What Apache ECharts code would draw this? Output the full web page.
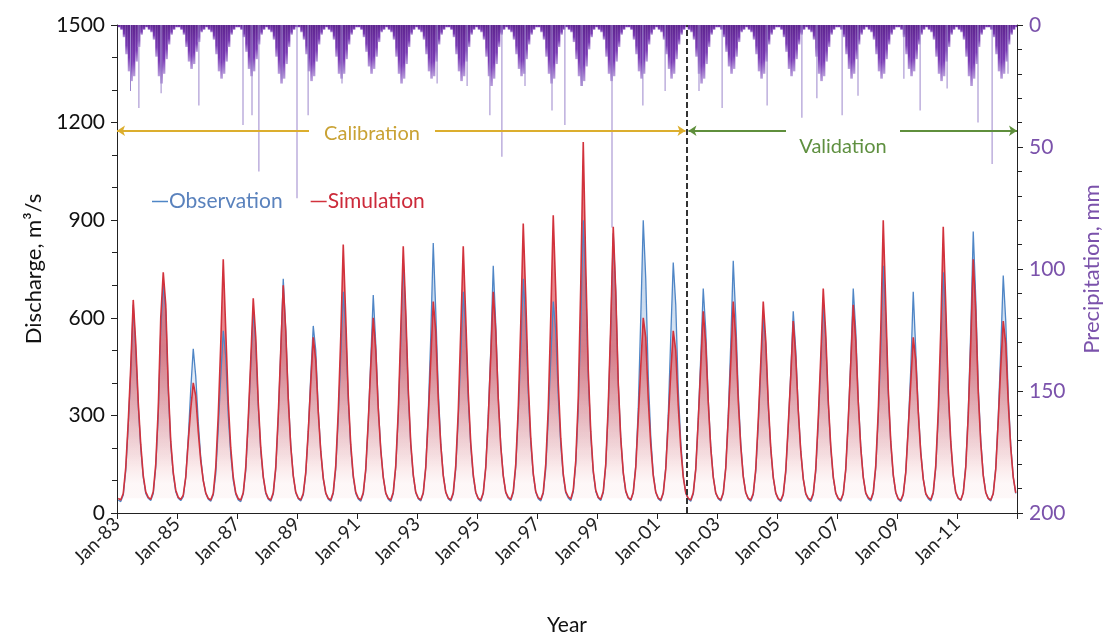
<!DOCTYPE html>
<html>
<head>
<meta charset="utf-8">
<script src="https://cdn.jsdelivr.net/npm/echarts@6/dist/echarts.min.js"></script>
<style>
html, body {margin: 0; padding: 0; background: #fff;}
#main {width: 1119px; height: 641px;}
</style>
</head>
<body>
<div id="main"></div>
<script>
var startYear = 1983;

// monthly discharge, m3/s (Jan..Dec), one row per year 1983-2012
var obsQ = [
    [40, 35, 55, 130, 270, 430, 640, 500, 330, 200, 110, 60],
    [45, 38, 60, 140, 300, 560, 700, 620, 380, 210, 120, 65],
    [45, 38, 50, 110, 230, 380, 505, 420, 280, 170, 100, 60],
    [42, 36, 55, 120, 260, 420, 560, 480, 300, 180, 100, 58],
    [40, 35, 60, 130, 280, 450, 620, 520, 330, 190, 110, 60],
    [42, 36, 58, 135, 290, 500, 720, 560, 360, 210, 115, 62],
    [44, 37, 55, 120, 250, 420, 575, 500, 320, 190, 105, 60],
    [42, 36, 60, 135, 290, 480, 680, 560, 350, 200, 110, 60],
    [43, 36, 58, 130, 280, 470, 670, 520, 330, 195, 110, 60],
    [42, 35, 60, 140, 300, 520, 780, 600, 370, 210, 115, 62],
    [44, 37, 60, 140, 310, 540, 830, 620, 380, 215, 118, 64],
    [44, 37, 58, 135, 290, 480, 680, 560, 350, 205, 112, 62],
    [43, 36, 60, 140, 300, 500, 760, 580, 360, 210, 115, 62],
    [45, 38, 62, 140, 300, 500, 720, 590, 370, 215, 118, 64],
    [44, 37, 60, 135, 290, 470, 650, 560, 360, 210, 115, 62],
    [46, 38, 65, 150, 320, 580, 900, 700, 420, 240, 125, 66],
    [46, 38, 62, 145, 320, 560, 860, 680, 400, 230, 122, 65],
    [45, 38, 62, 145, 320, 600, 900, 720, 420, 235, 120, 64],
    [44, 37, 60, 140, 300, 540, 770, 640, 380, 220, 115, 62],
    [43, 36, 58, 135, 290, 480, 690, 560, 350, 205, 112, 60],
    [44, 37, 60, 140, 300, 520, 775, 600, 370, 215, 115, 62],
    [43, 36, 56, 128, 270, 440, 600, 520, 330, 195, 108, 60],
    [42, 35, 55, 125, 265, 430, 620, 500, 320, 190, 105, 58],
    [42, 35, 56, 128, 275, 450, 640, 530, 340, 200, 108, 60],
    [43, 36, 58, 132, 285, 470, 690, 560, 350, 205, 110, 60],
    [44, 37, 60, 138, 295, 500, 760, 600, 370, 215, 115, 62],
    [42, 35, 55, 125, 265, 440, 680, 500, 320, 190, 105, 58],
    [44, 37, 60, 138, 295, 500, 740, 600, 370, 215, 115, 62],
    [45, 38, 62, 145, 310, 560, 865, 660, 390, 225, 118, 64],
    [44, 37, 60, 138, 295, 500, 730, 590, 360, 210, 110, 60]
];
var simQ = [
    [45, 40, 60, 140, 280, 450, 655, 520, 340, 210, 115, 65],
    [48, 42, 65, 150, 320, 600, 740, 640, 390, 220, 125, 70],
    [48, 42, 55, 110, 220, 320, 400, 360, 250, 160, 100, 62],
    [45, 40, 60, 140, 300, 520, 780, 560, 340, 200, 110, 62],
    [44, 40, 62, 140, 290, 470, 660, 540, 340, 200, 112, 64],
    [45, 40, 62, 140, 300, 500, 700, 560, 350, 205, 115, 64],
    [46, 40, 60, 125, 250, 400, 540, 470, 310, 190, 108, 62],
    [45, 40, 64, 145, 310, 540, 825, 600, 360, 210, 115, 64],
    [46, 40, 62, 135, 280, 450, 600, 500, 320, 195, 110, 62],
    [45, 40, 64, 145, 310, 560, 820, 620, 380, 215, 118, 64],
    [46, 40, 62, 140, 290, 470, 650, 560, 350, 210, 115, 64],
    [46, 40, 62, 145, 310, 560, 820, 600, 370, 215, 118, 64],
    [45, 40, 62, 140, 290, 480, 680, 560, 350, 205, 115, 64],
    [48, 42, 66, 150, 320, 580, 890, 660, 400, 230, 122, 66],
    [47, 41, 64, 150, 320, 600, 915, 680, 400, 230, 120, 66],
    [50, 43, 70, 160, 350, 700, 1140, 760, 440, 250, 130, 70],
    [48, 42, 66, 150, 330, 580, 880, 680, 400, 230, 125, 68],
    [47, 41, 64, 140, 290, 450, 600, 540, 350, 210, 115, 64],
    [46, 40, 62, 135, 280, 430, 560, 500, 330, 200, 110, 62],
    [45, 40, 62, 135, 285, 450, 620, 520, 340, 200, 110, 62],
    [46, 40, 62, 138, 290, 460, 650, 540, 345, 205, 112, 63],
    [45, 40, 60, 135, 285, 460, 650, 530, 340, 200, 110, 62],
    [44, 39, 58, 130, 270, 420, 590, 480, 315, 190, 106, 60],
    [45, 40, 60, 135, 290, 480, 690, 550, 345, 205, 112, 62],
    [45, 40, 60, 135, 285, 460, 640, 530, 340, 200, 110, 62],
    [47, 41, 64, 145, 310, 560, 900, 640, 380, 220, 118, 64],
    [44, 39, 58, 125, 260, 400, 540, 470, 310, 185, 105, 60],
    [47, 41, 64, 145, 310, 560, 880, 640, 380, 220, 118, 64],
    [46, 40, 62, 140, 300, 520, 780, 620, 370, 215, 115, 63],
    [45, 40, 60, 135, 285, 450, 590, 520, 340, 200, 110, 62]
];
// precipitation, mm (dense part, by month)
var rainM = [
    [1, 2, 5, 12, 19, 23, 21, 15, 9, 4, 2, 1],
    [2, 3, 6, 13, 21, 24, 20, 14, 8, 4, 2, 1],
    [1, 2, 4, 9, 15, 18, 16, 11, 7, 3, 2, 1],
    [2, 3, 6, 12, 19, 22, 20, 15, 9, 4, 2, 1],
    [1, 2, 5, 11, 18, 21, 19, 14, 8, 4, 2, 1],
    [2, 3, 6, 13, 20, 24, 22, 16, 9, 4, 2, 1],
    [1, 3, 6, 12, 19, 23, 21, 15, 8, 4, 2, 1],
    [2, 3, 6, 13, 20, 22, 20, 14, 8, 4, 2, 1],
    [1, 2, 5, 11, 17, 20, 18, 13, 7, 3, 2, 1],
    [2, 3, 6, 13, 20, 24, 22, 16, 9, 4, 2, 1],
    [2, 3, 6, 12, 19, 22, 21, 15, 8, 4, 2, 1],
    [1, 2, 5, 12, 19, 23, 21, 15, 9, 4, 2, 1],
    [2, 3, 6, 13, 21, 25, 22, 16, 9, 4, 2, 1],
    [2, 3, 6, 12, 18, 21, 20, 14, 8, 4, 2, 1],
    [1, 3, 6, 13, 20, 24, 22, 16, 9, 4, 2, 1],
    [2, 3, 7, 14, 21, 25, 23, 17, 10, 5, 2, 1],
    [2, 3, 6, 13, 20, 23, 21, 15, 9, 4, 2, 1],
    [1, 2, 6, 12, 19, 22, 20, 15, 8, 4, 2, 1],
    [2, 3, 6, 12, 18, 22, 20, 14, 8, 4, 2, 1],
    [2, 3, 6, 13, 20, 24, 22, 16, 9, 4, 2, 1],
    [1, 2, 5, 11, 17, 20, 18, 13, 7, 3, 2, 1],
    [2, 3, 6, 12, 19, 22, 20, 15, 8, 4, 2, 1],
    [1, 2, 5, 11, 18, 21, 19, 14, 8, 4, 2, 1],
    [2, 3, 6, 13, 20, 23, 21, 15, 9, 4, 2, 1],
    [1, 2, 5, 12, 18, 22, 20, 14, 8, 4, 2, 1],
    [2, 3, 6, 12, 19, 22, 20, 14, 8, 4, 2, 1],
    [1, 2, 5, 12, 18, 21, 19, 14, 8, 4, 2, 1],
    [2, 3, 6, 13, 20, 23, 21, 15, 9, 4, 2, 1],
    [2, 3, 6, 13, 21, 25, 22, 16, 9, 4, 2, 1],
    [1, 2, 5, 12, 19, 22, 20, 15, 8, 4, 2, 1]
];
// single heavy days: [years after Jan-83, mm]
var rainSpikes = [
    [0.45, 27], [0.73, 34], [1.47, 28], [2.73, 33], [4.2, 41], [4.5, 37], [4.73, 60],
    [5.5, 22], [6.0, 71], [6.37, 37], [7.5, 24], [10.67, 24], [11.67, 25], [12.43, 37],
    [12.83, 54], [13.6, 25], [14.5, 35], [14.93, 41], [15.5, 25], [16.5, 83], [17.53, 33],
    [18.27, 27], [19.4, 27], [20.17, 34], [21.67, 33], [22.83, 38], [23.33, 30], [24.17, 37],
    [24.7, 29], [26.23, 22], [26.77, 35], [27.67, 26], [28.7, 40], [29.17, 57], [29.7, 20]
];
var splitYear = 19;   // Jan-02, end of calibration
var arrowQ = 1175;

function monthly(rows) {
    var out = [];
    for (var i = 0; i < rows.length; i++) {
        for (var m = 0; m < 12; m++) {
            out.push([i + (m + 0.5) / 12, rows[i][m]]);
        }
    }
    return out;
}

var font = 'Lato, "Open Sans", sans-serif';
var gridTop = 25, gridH = 491;
// pixel height of a discharge value, only for shading the filled peaks
function qy(v) { return gridTop + (1 - v / 1500) * gridH; }

var option = {
    animation: false,
    textStyle: {fontFamily: font},
    grid: {left: 117, right: 102, top: gridTop, bottom: 641 - gridTop - gridH},
    legend: {
        left: 147,
        top: 186,
        icon: 'rect',
        itemWidth: 16,
        itemHeight: 1.5,
        itemGap: 28,
        textStyle: {fontSize: 21, fontFamily: font, padding: [0, 0, 0, -4]},
        data: [
            {name: 'Observation', textStyle: {color: '#5a82bd'}},
            {name: 'Simulation', textStyle: {color: '#cc2a3a'}}
        ]
    },
    xAxis: {
        type: 'value',
        min: 0,
        max: 30,
        interval: 2,
        name: 'Year',
        nameLocation: 'middle',
        nameGap: 102,
        nameTextStyle: {fontSize: 21, color: '#111', fontFamily: font},
        splitLine: {show: false},
        axisLine: {lineStyle: {color: '#222', width: 1}},
        axisTick: {length: 6, lineStyle: {color: '#222'}},
        axisLabel: {
            rotate: 45,
            fontSize: 19,
            color: '#222',
            margin: 8,
            formatter: function (v) {
                if (v % 2 !== 0 || v >= 30) return '';
                var yy = (startYear + v) % 100;
                return 'Jan-' + (yy < 10 ? '0' + yy : yy);
            }
        }
    },
    yAxis: [
        {
            type: 'value',
            min: 0,
            max: 1500,
            interval: 300,
            name: 'Discharge, m\u00b3/s',
            nameLocation: 'middle',
            nameGap: 70,
            nameTextStyle: {fontSize: 22, color: '#111', fontFamily: font},
            splitLine: {show: false},
            axisLine: {show: true, lineStyle: {color: '#222'}},
            axisTick: {show: true, length: 6, lineStyle: {color: '#222'}},
            minorTick: {show: true, splitNumber: 3, length: 5, lineStyle: {color: '#222'}},
            axisLabel: {fontSize: 21, color: '#111', margin: 12, formatter: function (v) { return String(v); }}
        },
        {
            type: 'value',
            min: 0,
            max: 200,
            interval: 50,
            inverse: true,
            position: 'right',
            name: 'Precipitation, mm',
            nameLocation: 'middle',
            nameGap: 64,
            nameTextStyle: {fontSize: 22, color: '#7b52ab', fontFamily: font},
            splitLine: {show: false},
            axisLine: {show: true, lineStyle: {color: '#222'}},
            axisTick: {show: true, length: 6, lineStyle: {color: '#222'}},
            minorTick: {show: true, splitNumber: 5, length: 5, lineStyle: {color: '#222'}},
            axisLabel: {fontSize: 21, color: '#7b52ab', margin: 12}
        }
    ],
    series: [
        {
            name: 'Precipitation',
            type: 'bar',
            yAxisIndex: 1,
            barWidth: 2.6,
            barGap: '-100%',
            itemStyle: {
                color: new echarts.graphic.LinearGradient(0, 0, 0, 1, [
                    {offset: 0, color: '#5e2590'},
                    {offset: 0.7, color: '#7a3bb5'},
                    {offset: 1, color: '#b9a0dc'}
                ])
            },
            data: monthly(rainM)
        },
        {
            name: 'Precip spikes',
            type: 'bar',
            yAxisIndex: 1,
            barWidth: 1,
            barGap: '-100%',
            itemStyle: {color: '#9c86cc'},
            data: rainSpikes
        },
        {
            name: 'Observation',
            type: 'line',
            showSymbol: false,
            color: '#4f86c6',
            lineStyle: {width: 1.3, color: '#4f86c6'},
            areaStyle: {
                origin: 45,
                color: new echarts.graphic.LinearGradient(0, qy(700), 0, qy(150), [
                    {offset: 0, color: 'rgba(79,134,198,0.45)'},
                    {offset: 1, color: 'rgba(79,134,198,0)'}
                ], true)
            },
            data: monthly(obsQ),
            markLine: {
                silent: true,
                symbolSize: 8,
                label: {show: false},
                lineStyle: {type: 'solid', width: 2},
                data: [
                    [{coord: [0, arrowQ], symbol: 'arrow', lineStyle: {color: '#dcae2e'}}, {coord: [6.4, arrowQ], symbol: 'none'}],
                    [{coord: [10.6, arrowQ], symbol: 'none', lineStyle: {color: '#dcae2e'}}, {coord: [splitYear - 0.05, arrowQ], symbol: 'arrow'}],
                    [{coord: [splitYear + 0.05, arrowQ], symbol: 'arrow', lineStyle: {color: '#5f8f3c'}}, {coord: [22.3, arrowQ], symbol: 'none'}],
                    [{coord: [26.1, arrowQ], symbol: 'none', lineStyle: {color: '#5f8f3c'}}, {coord: [30, arrowQ], symbol: 'arrow'}]
                ]
            },
            markPoint: {
                silent: true,
                symbol: 'circle',
                symbolSize: 1,
                itemStyle: {color: 'rgba(0,0,0,0)'},
                data: [
                    {coord: [8.5, 1165], label: {show: true, position: 'inside', formatter: 'Calibration', fontSize: 20, color: '#c9a234', fontFamily: font}},
                    {coord: [24.2, 1125], label: {show: true, position: 'inside', formatter: 'Validation', fontSize: 20, color: '#5f9040', fontFamily: font}}
                ]
            }
        },
        {
            name: 'Simulation',
            type: 'line',
            showSymbol: false,
            color: '#d2323c',
            lineStyle: {width: 1.6, color: '#d2323c'},
            areaStyle: {
                origin: 45,
                color: new echarts.graphic.LinearGradient(0, qy(500), 0, qy(100), [
                    {offset: 0, color: 'rgba(210,45,55,0.8)'},
                    {offset: 1, color: 'rgba(210,45,55,0.05)'}
                ], true)
            },
            data: monthly(simQ),
            markLine: {
                silent: true,
                symbol: 'none',
                label: {show: false},
                lineStyle: {type: [6, 3], color: '#333', width: 2},
                data: [{xAxis: splitYear}]
            }
        }
    ]
};

var myChart = echarts.init(document.getElementById('main'));
myChart.setOption(option);
</script>
</body>
</html>
